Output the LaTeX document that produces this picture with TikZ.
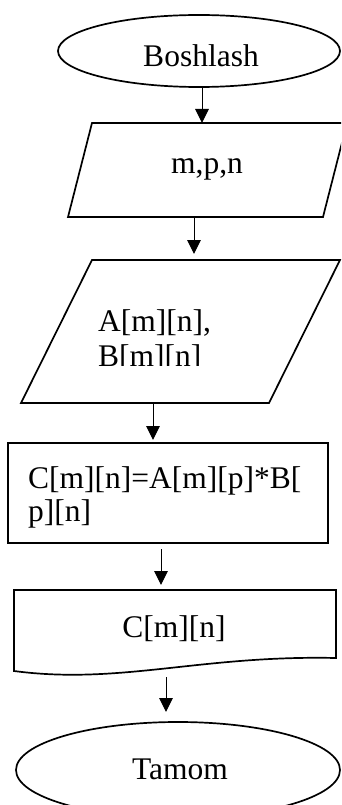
\documentclass[tikz,border=0pt]{standalone}
\usepackage{fontspec}
\setmainfont{Liberation Serif}
\usetikzlibrary{arrows.meta}
\begin{document}
\begin{tikzpicture}[x=1pt,y=-1pt,
  shapeline/.style={draw=black, line width=1.7pt, line join=miter},
  arr/.style={draw=black, line width=1pt, -{Triangle[length=14pt,width=13.5pt]}},
  txt/.style={font=\fontsize{31.5}{35}\selectfont, inner sep=0pt},
]
\useasboundingbox (0,0) rectangle (341,805);
\clip (0,0) rectangle (341,805);
% shapes
\draw[shapeline] (199,51) ellipse [x radius=141, y radius=36];
\draw[shapeline] (92,123) -- (347,123) -- (323,217) -- (68,217) -- cycle;
\draw[shapeline] (92,260) -- (340,260) -- (269,403) -- (21,403) -- cycle;
\draw[shapeline] (8,443) rectangle (328,543);
\draw[shapeline] (14,590) -- (336,590) -- (336,658)
   .. controls (200,655) and (120,685) .. (14,671) -- cycle;
\draw[shapeline] (178,770) ellipse [x radius=162, y radius=48];
% texts (some lines are cut at the bottom, as in the original)
\begin{scope}
  \clip (0,0) rectangle (341,66.5);
  \node[txt, anchor=base] (start) at (201,67) {Boshlash};
\end{scope}
\node[txt, anchor=base] (in1) at (207,174) {m,p,n};
\node[txt, anchor=base west] (in2a) at (98,331) {A[m][n],};
\begin{scope}
  \clip (0,340) rectangle (341,365);
  \node[txt, anchor=base west] (in2b) at (98,366) {B[m][n]};
\end{scope}
\node[txt, anchor=base west] (proca) at (28,488) {C[m][n]=A[m][p]*B[};
\node[txt, anchor=base west] (procb) at (28,521) {p][n]};
\node[txt, anchor=base] (out) at (174,637) {C[m][n]};
\node[txt, anchor=base] (stop) at (180,779) {Tamom};
% connector end points
\coordinate (a1s) at (202,87);  \coordinate (a1e) at (202,123);
\coordinate (a2s) at (194,217); \coordinate (a2e) at (194,254);
\coordinate (a3s) at (153,403); \coordinate (a3e) at (153,440);
\coordinate (a4s) at (161,549); \coordinate (a4e) at (161,585);
\coordinate (a5s) at (166,677); \coordinate (a5e) at (166,712);
\draw[arr] (a1s) -- (a1e);
\draw[arr] (a2s) -- (a2e);
\draw[arr] (a3s) -- (a3e);
\draw[arr] (a4s) -- (a4e);
\draw[arr] (a5s) -- (a5e);
\end{tikzpicture}
\end{document}
